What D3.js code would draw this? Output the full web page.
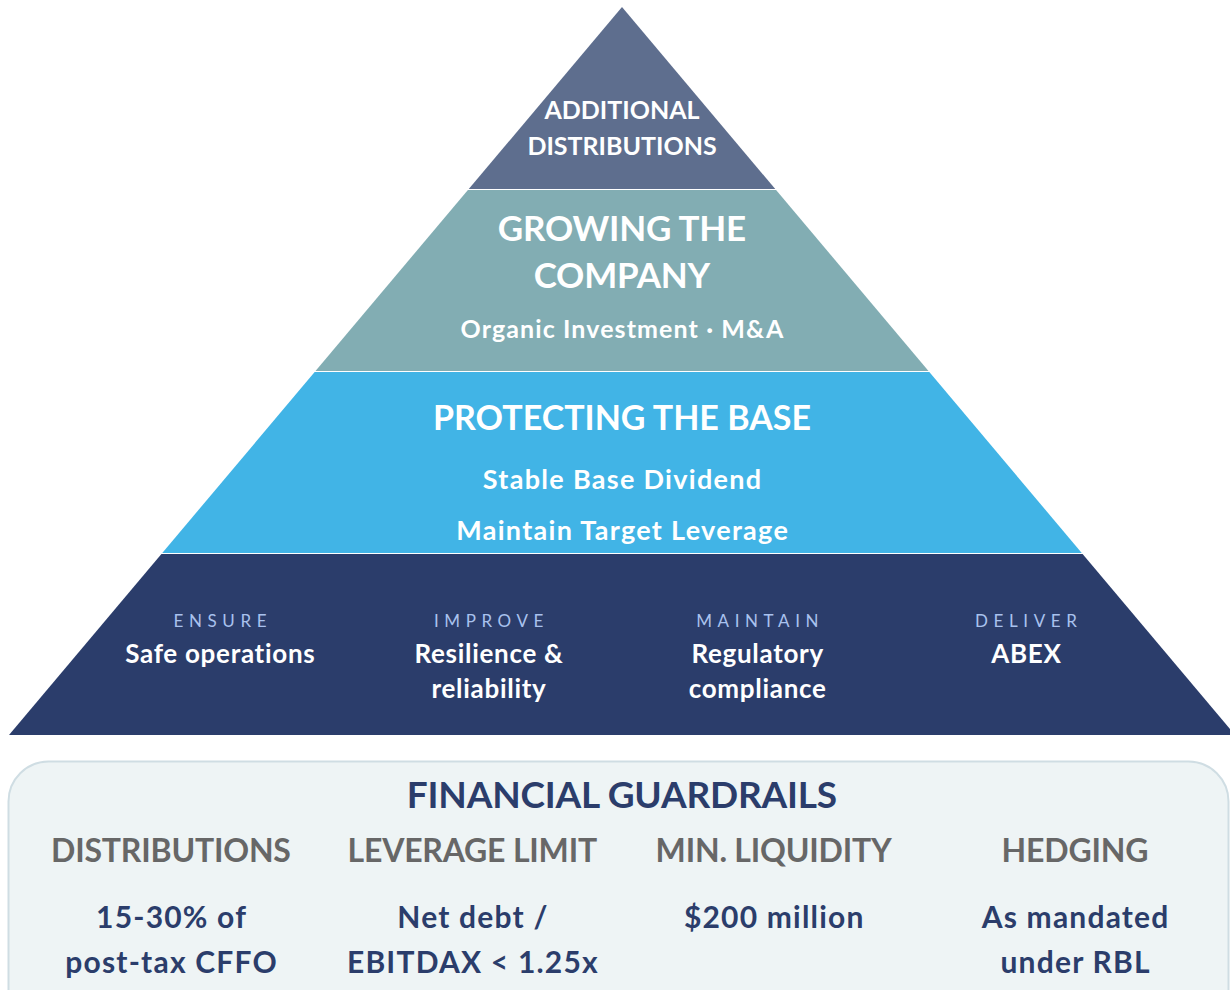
<!DOCTYPE html>
<html><head><meta charset="utf-8">
<script src="https://cdn.jsdelivr.net/npm/d3@7"></script>
<style>
html,body{margin:0;padding:0;background:#fff;}
svg{display:block;}
text{font-family:Lato,"Open Sans",sans-serif;}
</style></head>
<body><svg id="c" width="1230" height="990"></svg>
<script>
// ---- data ----
const layerNames = ["ADDITIONAL DISTRIBUTIONS","GROWING THE COMPANY","PROTECTING THE BASE","FOUNDATION"];
const layerColors = ["#5E6E8E","#82ADB3","#41B4E6","#2B3D6B"];
const topLines = ["ADDITIONAL","DISTRIBUTIONS"];
const growLines = ["GROWING THE","COMPANY"];
const growSub = "Organic Investment · M&A";
const protectTitle = "PROTECTING THE BASE";
const protectSubs = ["Stable Base Dividend","Maintain Target Leverage"];
const baseVerbs = ["ENSURE","IMPROVE","MAINTAIN","DELIVER"];
const baseItems = [["Safe operations"],["Resilience &","reliability"],["Regulatory","compliance"],["ABEX"]];
const guardTitle = "FINANCIAL GUARDRAILS";
const guardHeads = ["DISTRIBUTIONS","LEVERAGE LIMIT","MIN. LIQUIDITY","HEDGING"];
const guardValues = [["15-30% of","post-tax CFFO"],["Net debt /","EBITDAX < 1.25x"],["$200 million"],["As mandated","under RBL"]];

const svg = d3.select("#c");
const cx = 622;
const y = d3.scaleLinear().domain([0, layerNames.length]).range([7, 735]);
const half = d3.scaleLinear().domain([7, 735]).range([0, 613]);

// layers
svg.selectAll("path.layer").data(layerNames).join("path")
  .attr("class","layer")
  .attr("fill",(d,i)=>layerColors[i])
  .attr("d",(d,i)=>{
    const y0 = y(i) + (i>0?1:0), y1 = y(i+1);
    const h0 = half(y0), h1 = half(y1);
    return `M${cx-h0},${y0}L${cx+h0},${y0}L${cx+h1},${y1}L${cx-h1},${y1}Z`;
  });

function txt(s, x, yy, size, opts={}) {
  const ls = opts.ls||0;
  return svg.append("text").attr("x",x + ls/2).attr("y",yy).attr("text-anchor","middle")
    .attr("font-size",size).attr("font-weight",opts.w||700).attr("fill",opts.fill||"#fff")
    .attr("letter-spacing",ls).text(s);
}

// top
topLines.forEach((s,i)=>txt(s,cx,119+i*36,25));
// grow
growLines.forEach((s,i)=>txt(s,cx,241+i*47,35,{ls:-0.2}));
txt(growSub,cx,338,25,{ls:1.1});
// protect
txt(protectTitle,cx,430,34);
protectSubs.forEach((s,i)=>txt(s,cx,489+i*51,27,{ls:1.3}));
// base
const bx = d3.scalePoint().domain(baseVerbs).range([220,1026]);
baseVerbs.forEach((v,i)=>{
  txt(v, bx(v), 627, 17, {w:400, fill:"#A9C2EE", ls:5.6});
  baseItems[i].forEach((s,j)=>txt(s,bx(v),663+j*35,26,{ls:0.7}));
});

// guardrails box
svg.append("rect").attr("x",8.5).attr("y",761.5).attr("width",1220).attr("height",280)
  .attr("rx",40).attr("fill","#EEF4F5").attr("stroke","#CFDDE3").attr("stroke-width",2);
txt(guardTitle,cx,808,37,{fill:"#2B3D6B",ls:-0.2});
const gx = d3.scalePoint().domain(guardHeads).range([171,1075]);
guardHeads.forEach((h,i)=>{
  txt(h,gx(h),862,32,{fill:"#676767",ls:-0.2});
  guardValues[i].forEach((s,j)=>txt(s,gx(h),928+j*45,30,{fill:"#2B3D6B",ls:1.2}));
});
</script></body></html>
